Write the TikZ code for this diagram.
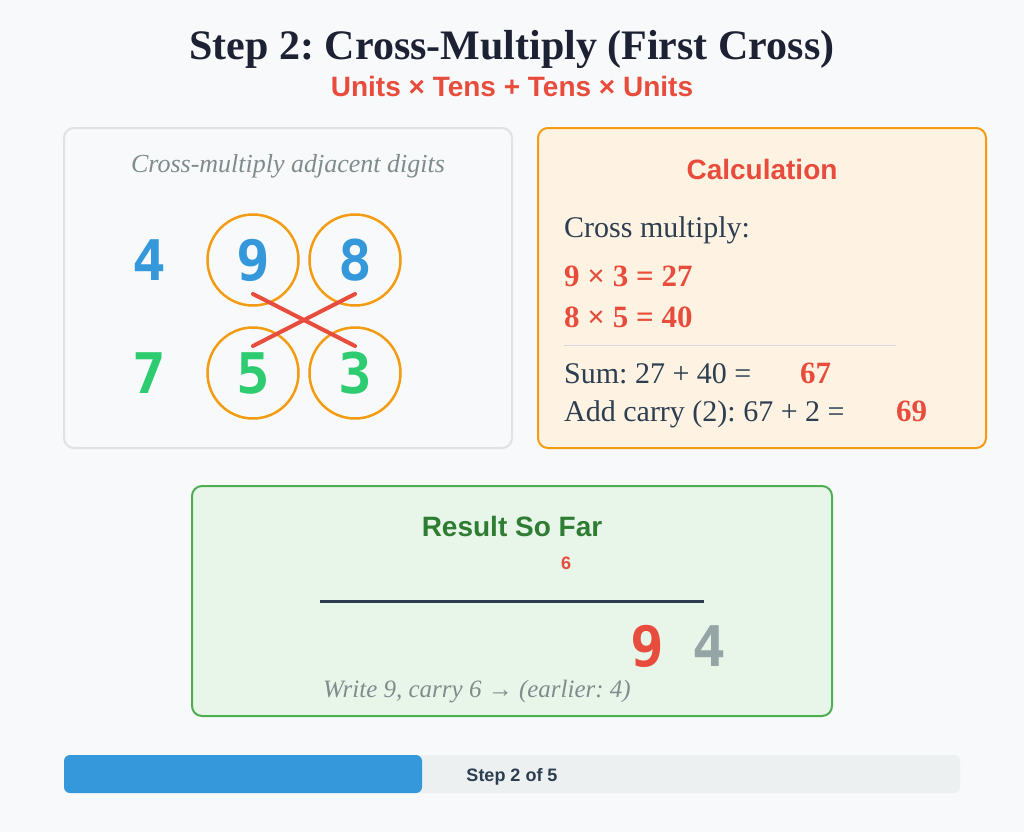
\documentclass[tikz,border=0pt]{standalone}
\usepackage{fontspec}
\setmainfont{Liberation Serif}
\setsansfont{Liberation Sans}
\setmonofont{DejaVu Sans Mono}
\usetikzlibrary{calc}
\definecolor{bgpage}{HTML}{F8F9FA}
\definecolor{inkdark}{HTML}{2C3E50}
\definecolor{titledark}{HTML}{1C2233}
\definecolor{redmark}{HTML}{E74C3C}
\definecolor{bluedig}{HTML}{3498DB}
\definecolor{greendig}{HTML}{2ECC71}
\definecolor{orangering}{HTML}{F39C12}
\definecolor{graytext}{HTML}{7F8C8D}
\definecolor{panelline}{HTML}{DEE2E6}
\definecolor{peach}{HTML}{FEF3E2}
\definecolor{mint}{HTML}{E8F5E9}
\definecolor{leafgreen}{HTML}{4CAF50}
\definecolor{darkgreen}{HTML}{2E7D32}
\definecolor{barback}{HTML}{ECF0F1}
\definecolor{fadedgray}{HTML}{95A5A6}
\definecolor{ruleline}{HTML}{D5D8DC}
\frenchspacing
\def\fs#1{\fontsize{#1}{#1}\selectfont}
\tikzset{
	panel/.style={rounded corners=10pt, line width=2pt},
	digit/.style={inner sep=0pt, font=\fs{56}\ttfamily\bfseries},
	ring/.style={circle, draw=orangering, line width=2.5pt, minimum size=91pt},
	crossline/.style={draw=redmark, line width=4pt, line cap=round},
	calcline/.style={anchor=base west, inner sep=0pt, text=inkdark, font=\fs{30}},
	calcred/.style={anchor=base west, inner sep=0pt, text=redmark, font=\fs{31}\bfseries},
	heading/.style={inner sep=0pt, font=\fs{28}\sffamily\bfseries}
}

\begin{document}
\begin{tikzpicture}[x=1pt, y=-1pt]
	%%%%% START %%%%%
	\fill[bgpage] (0,0) rectangle (1024,832);
	
	\node[inner sep=0pt, anchor=base, text=titledark, font=\fs{42}\bfseries] (title) at (512,60) {Step 2: Cross-Multiply (First Cross)};
	\node[inner sep=0pt, anchor=base, text=redmark, font=\fs{28}\sffamily\bfseries] (subtitle) at (512,96) {Units × Tens + Tens × Units};
	
	%%%%% DIGITS PANEL %%%%%
	\draw[panel, draw=panelline, fill=bgpage] (64,128) rectangle (512,448);
	\node[inner sep=0pt, anchor=base, text=graytext, font=\fs{26}\itshape] (hint) at (288,172) {Cross-multiply adjacent digits};
	
	\node[digit, text=bluedig] (four) at (149,260) {4};
	\node[digit, text=greendig] (seven) at (149,373) {7};
	\node[ring, digit, text=bluedig] (nine) at (253,260) {9};
	\node[ring, digit, text=bluedig] (eight) at (355,260) {8};
	\node[ring, digit, text=greendig] (five) at (253,373) {5};
	\node[ring, digit, text=greendig] (three) at (355,373) {3};
	
	\draw[crossline] ($(nine)+(0,34)$) -- ($(three)+(0,-27)$);
	\draw[crossline] ($(eight)+(0,34)$) -- ($(five)+(0,-27)$);
	
	%%%%% CALCULATION PANEL %%%%%
	\draw[panel, draw=orangering, fill=peach] (538,128) rectangle (986,448);
	\node[heading, anchor=base, text=redmark] (calchead) at (762,179) {Calculation};
	\node[calcline] (crossmul) at (564,237) {Cross multiply:};
	\node[calcred] (prodA) at (564,286) {9 × 3 = 27};
	\node[calcred] (prodB) at (564,327) {8 × 5 = 40};
	\draw[ruleline, line width=1pt] (564,345) -- (896,345);
	\node[calcline] (sumtxt) at (564,383) {Sum: 27 + 40 =};
	\node[calcred] (sumval) at (800,383) {67};
	\node[calcline] (carrytxt) at (564,421) {Add carry (2): 67 + 2 =};
	\node[calcred] (carryval) at (896,421) {69};
	
	%%%%% RESULT PANEL %%%%%
	\draw[panel, draw=leafgreen, fill=mint] (192,486) rectangle (832,716);
	\node[heading, anchor=base, text=darkgreen] (reshead) at (512,536) {Result So Far};
	\node[inner sep=0pt, text=redmark, font=\fs{18}\sffamily\bfseries] (carrysix) at (566,563) {6};
	\draw[inkdark, line width=3pt] (320,601) -- (704,601);
	\node[digit, text=redmark] (resnine) at (647,646) {9};
	\node[digit, text=fadedgray] (resfour) at (709,646) {4};
	\node[inner sep=0pt, anchor=base, text=graytext, font=\fs{25}\itshape] (writenote) at (477,697) {Write 9, carry 6 → (earlier: 4)};
	
	%%%%% PROGRESS %%%%%
	\fill[barback, rounded corners=6pt] (64,755) rectangle (960,793);
	\fill[bluedig, rounded corners=6pt] (64,755) rectangle (422,793);
	\node[inner sep=0pt, text=inkdark, font=\fs{18}\sffamily\bfseries] (progress) at (512,777) {Step 2 of 5};
	%%%%% END %%%%%
\end{tikzpicture}
\end{document}
